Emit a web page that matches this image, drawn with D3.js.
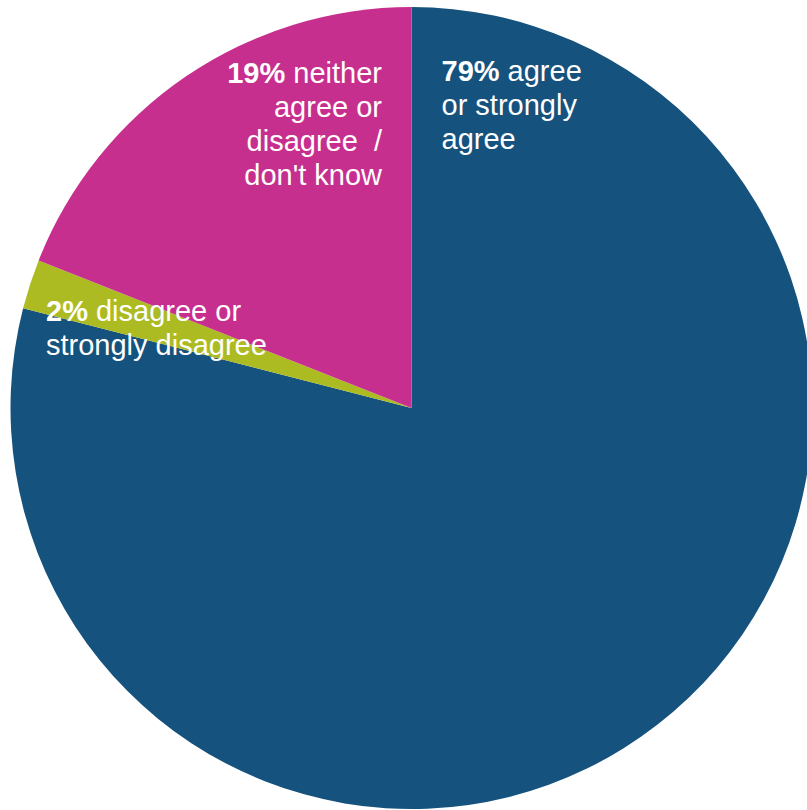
<!DOCTYPE html>
<html>
<head>
<meta charset="utf-8">
<script src="https://cdn.jsdelivr.net/npm/d3@7"></script>
<style>
  html, body { margin: 0; padding: 0; background: #fff; }
  svg { display: block; }
</style>
</head>
<body>
<svg id="chart" width="807" height="810"></svg>
<script>
// Survey response shares (percent), in clockwise order from 12 o'clock
const categories = ["agree or strongly agree", "disagree or strongly disagree", "neither agree or disagree / don't know"];
const values = [79, 2, 19];
const colors = ["#16527E", "#ADBB22", "#C72F8E"];

// Label lines: bold percentage on the first line, remaining text split as shown
const labelLines = [
  ["agree", "or strongly", "agree"],
  ["disagree or", "strongly disagree"],
  ["neither", "agree or", "disagree  /", "don't know"]
];

const width = 807, height = 810;
const cx = 411.5, cy = 408, radius = 401;
const fontFamily = "Arial, 'Liberation Sans', Helvetica, sans-serif";

const svg = d3.select("#chart");
const g = svg.append("g").attr("transform", `translate(${cx},${cy})`);

const pie = d3.pie().sort(null).value(d => d);
const arcs = pie(values);
const arc = d3.arc().innerRadius(0).outerRadius(radius);

g.selectAll("path.slice")
  .data(arcs)
  .join("path")
  .attr("class", "slice")
  .attr("d", arc)
  .attr("fill", (d, i) => colors[i]);

// Label placement per slice (offsets from the pie centre)
const labelPos = [
  { x: 30, y: -327, anchor: "start" },
  { x: -365.5, y: -87, anchor: "start" },
  { x: -29.5, y: -325, anchor: "end" }
];
const lineH = 34;

arcs.forEach((d, i) => {
  const p = labelPos[i];
  const t = g.append("text")
    .attr("x", p.x)
    .attr("y", p.y)
    .attr("text-anchor", p.anchor)
    .attr("font-family", fontFamily)
    .attr("font-size", 29)
    .attr("fill", "#fff")
    .style("white-space", "pre");
  labelLines[i].forEach((line, j) => {
    const ts = t.append("tspan").attr("x", p.x).attr("y", p.y + j * lineH);
    if (j === 0) {
      ts.append("tspan").attr("font-weight", "bold").text(values[i] + "%");
      ts.append("tspan").text(" " + line);
    } else {
      ts.text(line);
    }
  });
});
</script>
</body>
</html>
